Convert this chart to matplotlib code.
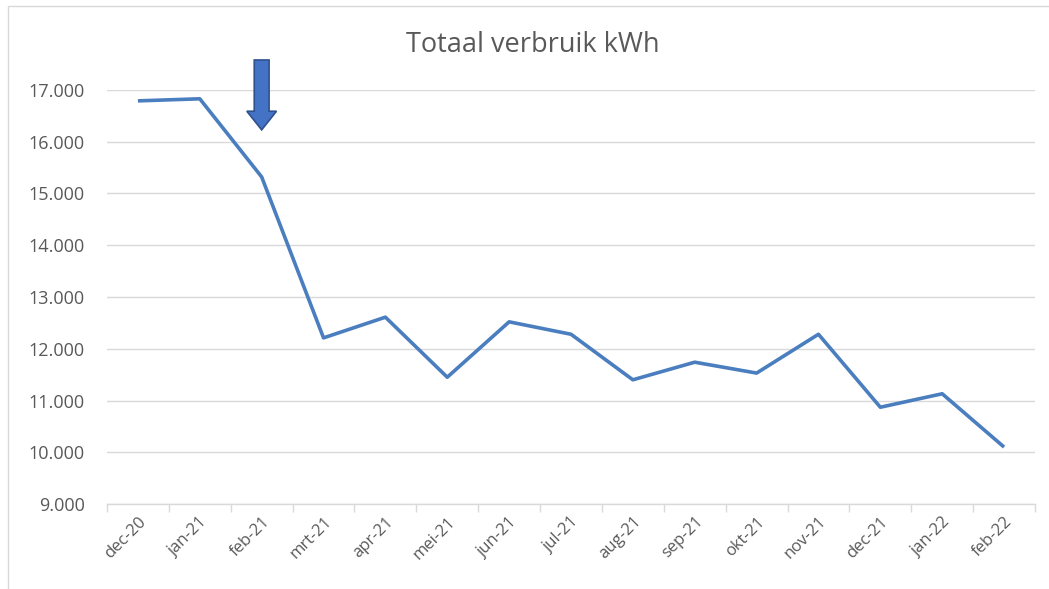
import matplotlib
matplotlib.use("Agg")
import matplotlib.pyplot as plt
from matplotlib.patches import Rectangle, FancyArrow
import numpy as np

months = ["dec-20", "jan-21", "feb-21", "mrt-21", "apr-21", "mei-21", "jun-21",
          "jul-21", "aug-21", "sep-21", "okt-21", "nov-21", "dec-21", "jan-22", "feb-22"]
verbruik = [16790, 16830, 15320, 12210, 12610, 11450, 12520, 12280, 11400,
            11740, 11530, 12280, 10870, 11130, 10100]
yticks = [9000, 10000, 11000, 12000, 13000, 14000, 15000, 16000, 17000]
ytick_labels = ["9.000", "10.000", "11.000", "12.000", "13.000", "14.000",
                "15.000", "16.000", "17.000"]
title = "Totaal verbruik kWh"
arrow_month = 2
arrow_top, arrow_tip = 17580, 16230

plt.rcParams['font.family'] = ['Open Sans', 'DejaVu Sans']
W, H = 1049, 589
fig = plt.figure(figsize=(W / 100, H / 100), dpi=100)
fig.patch.set_facecolor("white")

# outer chart border
fig.patches.append(Rectangle((8 / W, -0.1), 1.2, 1 - 6 / H + 0.1, transform=fig.transFigure,
                             fill=False, edgecolor="#D9D9D9", linewidth=1))

ax = fig.add_axes([107 / W, 1 - 504 / H, (1035 - 107) / W, (504 - 90) / H])
x = np.arange(len(months))
ax.plot(x, verbruik, color="#4A7EBF", linewidth=2.6, solid_joinstyle="round",
        solid_capstyle="butt", zorder=3)

ax.set_xlim(-0.5, len(months) - 0.5)
ax.set_ylim(yticks[0], yticks[-1])
ax.set_yticks(yticks)
ax.set_yticklabels(ytick_labels)
ax.yaxis.grid(True, color="#D9D9D9", linewidth=1)
ax.set_axisbelow(True)

ax.set_xticks(x)
ax.set_xticklabels(months, rotation=45, ha="right", rotation_mode="anchor")
ax.set_xticks(np.arange(len(months) + 1) - 0.5, minor=True)
ax.tick_params(axis="x", which="major", length=0, pad=7, labelsize=12, colors="#595959")
ax.tick_params(axis="x", which="minor", length=6, color="#D9D9D9", width=1)
ax.tick_params(axis="y", length=0, pad=16, labelsize=13, colors="#595959")
for lbl in ax.get_xticklabels():
    lbl.set_color("#595959")

for side in ["top", "right", "left"]:
    ax.spines[side].set_visible(False)
ax.spines["bottom"].set_color("#D9D9D9")
ax.spines["bottom"].set_linewidth(1)

arr = FancyArrow(arrow_month, arrow_top, 0, arrow_tip - arrow_top, width=0.24,
                 head_width=0.48, head_length=360, length_includes_head=True,
                 facecolor="#4472C4", edgecolor="#2F528F", linewidth=1.2,
                 clip_on=False, zorder=5)
ax.add_patch(arr)

fig.text(533 / W, 1 - 45 / H, title, ha="center", va="center", fontsize=19.5,
         color="#595959")

fig.savefig("out.png", dpi=100)
